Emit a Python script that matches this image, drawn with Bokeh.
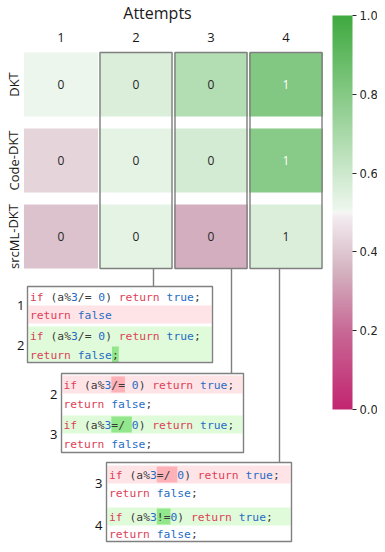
import re
from bokeh.plotting import figure
from bokeh.models import Range1d, ColumnDataSource, LinearColorMapper, ColorBar, FixedTicker, PrintfTickFormatter
from bokeh.transform import transform
from bokeh.core.properties import value
from bokeh.embed import file_html
from bokeh.resources import INLINE

# ---------------- data ----------------
models = ["DKT", "Code-DKT", "srcML-DKT"]
attempts = ["1", "2", "3", "4"]
pred_dkt = [0.51, 0.56, 0.67, 0.81]
pred_code_dkt = [0.43, 0.53, 0.58, 0.79]
pred_srcml_dkt = [0.39, 0.53, 0.34, 0.56]
label_dkt = [0, 0, 0, 1]
label_code_dkt = [0, 0, 0, 1]
label_srcml_dkt = [0, 0, 0, 1]
colorbar_ticks = [0.0, 0.2, 0.4, 0.6, 0.8, 1.0]

# code snippets shown between consecutive attempts
pair_1_2 = ["1", "2"]
code_1_2 = ["if (a%3/= 0) return true;", "return false",
            "if (a%3/= 0) return true;", "return false;"]
pair_2_3 = ["2", "3"]
code_2_3 = ["if (a%3/= 0) return true;", "return false;",
            "if (a%3=/ 0) return true;", "return false;"]
pair_3_4 = ["3", "4"]
code_3_4 = ["if (a%3=/ 0) return true;", "return false;",
            "if (a%3!=0) return true;", "return false;"]
removed_lines = [[1], [0], [0]]
added_lines = [[2, 3], [2], [2]]
removed_spans = [None, (0, 7, 9), (0, 7, 10)]
added_spans = [(3, 12, 13), (2, 7, 10), (2, 7, 9)]

# ---------------- colours ----------------
def make_palette(stops, n=256):
    out = []
    for i in range(n):
        t = i / (n - 1)
        for k in range(len(stops) - 1):
            if stops[k][0] <= t <= stops[k + 1][0]:
                a, b = stops[k], stops[k + 1]
                f = (t - a[0]) / (b[0] - a[0])
                c = [round(a[1][j] + (b[1][j] - a[1][j]) * f) for j in range(3)]
                break
        out.append("#%02x%02x%02x" % tuple(c))
    return out

palette = make_palette([(0.0, (194, 38, 112)), (0.2, (200, 105, 150)),
                        (0.35, (212, 178, 192)), (0.495, (244, 238, 241)),
                        (0.5, (247, 247, 247)), (0.505, (238, 247, 238)),
                        (1.0, (63, 170, 63))])
mapper = LinearColorMapper(palette=palette, low=0.0, high=1.0)

# ---------------- figure (pixel helpers for annotations) ----------------
W, H = 377, 544
PXU, PYU = 75.0, 76.0          # pixels per data unit
X0, Y0 = 1 - 60.5 / PXU, -84 / PYU   # data value at figure left / top edge

def dx(px):
    return X0 + px / PXU

def dy(py):
    return Y0 + py / PYU

p = figure(width=W, height=H, x_range=Range1d(X0, X0 + W / PXU),
           y_range=Range1d(Y0 + H / PYU, Y0), output_backend="svg",
           toolbar_location=None, min_border=0, x_axis_type=None, y_axis_type=None)
p.grid.visible = False
p.outline_line_color = None
p.background_fill_color = "white"

# ---------------- heatmap ----------------
preds = [pred_dkt, pred_code_dkt, pred_srcml_dkt]
labels = [label_dkt, label_code_dkt, label_srcml_dkt]
xs, ys, vals, labs, tcols = [], [], [], [], []
for r, m in enumerate(models):
    for c, a in enumerate(attempts):
        xs.append(c + 1)
        ys.append(r)
        vals.append(preds[r][c])
        labs.append(str(labels[r][c]))
        tcols.append("white" if preds[r][c] > 0.7 else "#262626")
hsrc = ColumnDataSource(dict(x=xs, y=ys, v=vals, lab=labs, tc=tcols))
p.rect(x="x", y="y", width=74 / PXU, height=64 / PYU, source=hsrc,
       fill_color=transform("v", mapper), line_color=None)
p.text(x="x", y="y", text="lab", source=hsrc, text_color="tc",
       text_align="center", text_baseline="middle",
       text_font=value("Open Sans"), text_font_size="12px")

# column headers, title, row labels
p.text(x=[i + 1 for i in range(len(attempts))], y=[dy(37)] * len(attempts), text=attempts,
       text_align="center", text_baseline="middle", text_color="#1a1a1a",
       text_font=value("Open Sans"), text_font_size="13px")
p.text(x=[dx(157)], y=[dy(12)], text=["Attempts"], text_align="center",
       text_baseline="middle", text_color="#1a1a1a",
       text_font=value("Open Sans"), text_font_size="16px")
p.text(x=[dx(13)] * len(models), y=list(range(len(models))), text=models, angle=1.5708,
       text_align="center", text_baseline="middle", text_color="#1a1a1a",
       text_font=value("Open Sans"), text_font_size="13px")

# outlines around attempts 2..4
n_rows = len(models)
p.rect(x=[2, 3, 4], y=[(n_rows - 1) / 2] * 3, width=72 / PXU,
       height=(n_rows - 1) + 64 / PYU, fill_color=None,
       line_color="#7f7f7f", line_width=1.4)

# ---------------- code boxes ----------------
boxes = [  # left, right, top, bottom (px), text origin x, line centres, label x, connector x
    dict(l=27, r=212, t=286, b=362, tx=29.5, ly=[296, 314, 335, 354], lab_x=24, cx=153),
    dict(l=61, r=243, t=373, b=452, tx=63, ly=[384, 403, 424, 443], lab_x=57, cx=231),
    dict(l=106, r=291, t=462, b=541, tx=108.5, ly=[474, 492, 516, 533], lab_x=102, cx=279),
]
codes = [code_1_2, code_2_3, code_3_4]
pairs = [pair_1_2, pair_2_3, pair_3_4]
CW = 6.83
outline_bottom = 268
KW_RED, LIT_BLUE, PLAIN = "#dd3f57", "#1f6cc4", "#3a3a3a"

tok_x, tok_y, tok_t, tok_c = [], [], [], []
for bi, bx in enumerate(boxes):
    p.segment(x0=[dx(bx["cx"])], y0=[dy(outline_bottom)], x1=[dx(bx["cx"])], y1=[dy(bx["t"])],
              line_color="#7f7f7f", line_width=1.4)
    for lines, col in ((removed_lines[bi], "#ffe4e7"), (added_lines[bi], "#e0fbd9")):
        top = bx["ly"][lines[0]] - 9
        bot = min(bx["ly"][lines[-1]] + 9, bx["b"] - 1)
        p.quad(left=[dx(bx["l"] + 1)], right=[dx(bx["r"] - 1)],
               top=[dy(top)], bottom=[dy(bot)], fill_color=col, line_color=None)
    for span, col in ((removed_spans[bi], "#ffb1b8"), (added_spans[bi], "#92e68b")):
        if span is None:
            continue
        yc = bx["ly"][span[0]]
        p.quad(left=[dx(bx["tx"] + span[1] * CW)], right=[dx(bx["tx"] + span[2] * CW)],
               top=[dy(yc - 8)], bottom=[dy(yc + 8)], fill_color=col, line_color=None)
    p.quad(left=[dx(bx["l"])], right=[dx(bx["r"])], top=[dy(bx["t"])], bottom=[dy(bx["b"])],
           fill_color=None, line_color="#808080", line_width=1.4)
    for li, line in enumerate(codes[bi]):
        for m in re.finditer(r"[A-Za-z_]+|\d+|\s+|.", line):
            t = m.group(0)
            if t.isspace():
                continue
            if t in ("if", "return"):
                c = KW_RED
            elif t in ("true", "false") or t.isdigit():
                c = LIT_BLUE
            else:
                c = PLAIN
            tok_x.append(dx(bx["tx"] + m.start() * CW))
            tok_y.append(dy(bx["ly"][li] + 0.5))
            tok_t.append(t)
            tok_c.append(c)
    ly = bx["ly"]
    p.text(x=[dx(bx["lab_x"])] * 2, y=[dy((ly[0] + ly[1]) / 2), dy((ly[2] + ly[3]) / 2)],
           text=pairs[bi], text_align="right", text_baseline="middle", text_color="#111111",
           text_font=value("Open Sans"), text_font_size="13px")

csrc = ColumnDataSource(dict(x=tok_x, y=tok_y, t=tok_t, c=tok_c))
p.text(x="x", y="y", text="t", text_color="c", source=csrc, text_align="left",
       text_baseline="middle", text_font=value("DejaVu Sans Mono"), text_font_size="11.3px")

# ---------------- colour bar ----------------
cb = ColorBar(color_mapper=mapper, location=(332, H - 409), width=20, height=394,
              padding=0, margin=0, ticker=FixedTicker(ticks=colorbar_ticks),
              formatter=PrintfTickFormatter(format="%.1f"),
              major_label_text_font="DejaVu Sans", major_label_text_font_size="11.5px",
              major_label_text_color="#262626", major_tick_out=4, major_tick_in=0,
              major_tick_line_color="#262626", bar_line_color=None, border_line_color=None,
              background_fill_color=None, label_standoff=3)
p.add_layout(cb, "center")

open("out.html", "w").write(file_html(p, INLINE))
